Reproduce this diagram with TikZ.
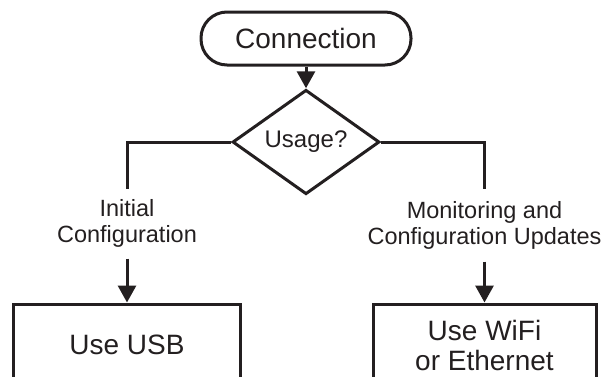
\documentclass[tikz,border=0pt]{standalone}
\usepackage{fontspec}
\setmainfont{Liberation Sans}
\usetikzlibrary{arrows.meta,shapes.geometric}
\definecolor{ink}{RGB}{35,31,32}
\begin{document}
\begin{tikzpicture}[x=1pt,y=-1pt,
  line width=3pt,
  draw=ink, text=ink,
  arr/.style={-{Triangle[length=17pt,width=18pt]}},
  term/.style={draw, rounded corners=26pt, minimum width=210pt, minimum height=53pt, inner sep=0pt, font=\fontsize{28}{30}\selectfont},
  dec/.style={draw, diamond, minimum width=147pt, minimum height=77pt, inner sep=0pt, font=\fontsize{24}{26}\selectfont},
  lab/.style={align=center, inner sep=0pt, font=\fontsize{23.5}{26}\selectfont},
  boxn/.style={draw, align=center, inner sep=0pt, font=\fontsize{28}{30}\selectfont}
]
\useasboundingbox (0,0) rectangle (605,376);
\clip (0,0) rectangle (605,376);
\node[term] (c) at (306,38.5) {Connection};
\node[dec] (d) at (306,142) {Usage?};
\node[lab, minimum height=67pt] (l1) at (127,223.5) {Initial\\Configuration};
\node[lab, minimum height=70pt] (l2) at (484.5,225) {Monitoring and\\Configuration Updates};
\node[boxn, minimum width=227pt, minimum height=82pt] (b1) at (127,345) {Use USB};
\node[boxn, minimum width=223pt, minimum height=82pt] (b2) at (484.5,345) {Use WiFi\\or Ethernet};
\draw[arr] (c) -- (d);
\draw (d.west) -| (l1.north);
\draw[arr] (l1.south) -- (b1.north);
\draw (d.east) -| (l2.north);
\draw[arr] (l2.south) -- (b2.north);
\end{tikzpicture}
\end{document}
